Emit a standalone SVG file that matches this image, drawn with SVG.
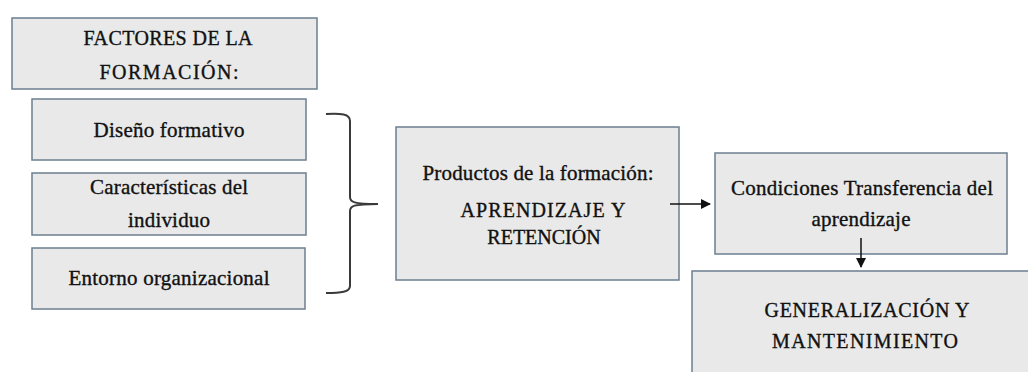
<svg xmlns="http://www.w3.org/2000/svg" width="1028" height="372" viewBox="0 0 1028 372">
<defs>
<style>
.box{fill:#e9e9e9;stroke:#6c7f91;stroke-width:1.5}
.t{font-family:"Liberation Serif","Times New Roman",serif;font-size:20px;fill:#111;stroke:#111;stroke-width:0.35;text-anchor:middle}
.l{font-size:21px}
.c{fill:none;stroke:#111;stroke-width:1.5}
.br{fill:none;stroke:#3a3a3a;stroke-width:2}
</style>
<marker id="ah" viewBox="0 0 10 10" refX="9" refY="5" markerWidth="10" markerHeight="10" markerUnits="userSpaceOnUse" orient="auto">
<path d="M0,0 L10,5 L0,10 z" fill="#111"/>
</marker>
</defs>
<rect width="1028" height="372" fill="#ffffff"/>
<g id="factores">
<rect class="box" x="12" y="18" width="305" height="71"/>
<text class="t" x="168" y="45" textLength="169" lengthAdjust="spacing">FACTORES DE LA</text>
<text class="t" x="169" y="79" textLength="139" lengthAdjust="spacing">FORMACIÓN:</text>
</g>
<g id="diseno">
<rect class="box" x="32" y="99" width="274" height="61"/>
<text class="t l" x="169" y="137" textLength="151" lengthAdjust="spacing">Diseño formativo</text>
</g>
<g id="caracteristicas">
<rect class="box" x="32" y="173" width="274" height="62"/>
<text class="t l" x="169" y="194" textLength="158" lengthAdjust="spacing">Características del</text>
<text class="t l" x="169" y="227" textLength="82" lengthAdjust="spacing">individuo</text>
</g>
<g id="entorno">
<rect class="box" x="32" y="248" width="273" height="61"/>
<text class="t l" x="169" y="285" textLength="201" lengthAdjust="spacing">Entorno organizacional</text>
</g>
<g id="productos">
<rect class="box" x="396" y="127" width="283" height="153"/>
<text class="t l" x="538" y="180" textLength="231" lengthAdjust="spacing">Productos de la formación:</text>
<text class="t" x="543" y="217" textLength="165" lengthAdjust="spacing">APRENDIZAJE Y</text>
<text class="t" x="544" y="244">RETENCIÓN</text>
</g>
<g id="condiciones">
<rect class="box" x="715" y="153" width="292" height="101"/>
<text class="t l" x="862" y="195" textLength="262" lengthAdjust="spacing">Condiciones Transferencia del</text>
<text class="t l" x="861" y="226" textLength="99" lengthAdjust="spacing">aprendizaje</text>
</g>
<g id="generalizacion">
<rect class="box" x="692" y="271" width="345" height="110"/>
<text class="t" x="867" y="317" textLength="205" lengthAdjust="spacing">GENERALIZACIÓN Y</text>
<text class="t" x="865" y="348" textLength="186" lengthAdjust="spacing">MANTENIMIENTO</text>
</g>
<g id="connectors">
<path class="br" d="M326,114 C341,113 350,114 350,121 L350,197 C350,202 353,204 378,204 C353,204 350,206 350,211 L350,286 C350,292 341,293 326,293"/>
<line class="c" x1="670" y1="204" x2="710" y2="204" marker-end="url(#ah)"/>
<line class="c" x1="861" y1="238" x2="861" y2="267" marker-end="url(#ah)"/>
</g>
</svg>
